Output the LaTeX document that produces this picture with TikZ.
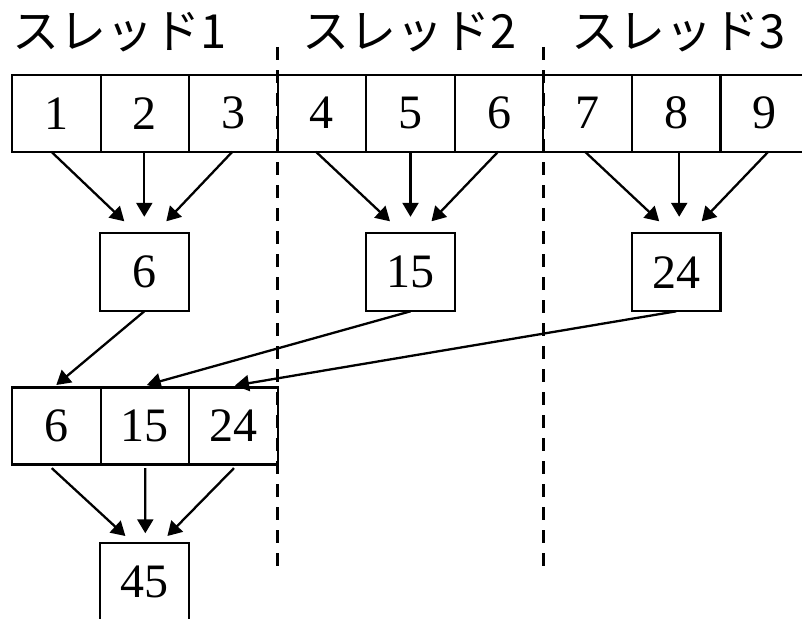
\documentclass[tikz,border=0pt]{standalone}
\usepackage{fontspec}
\setmainfont{Liberation Serif}
\newfontfamily\jpfont{Noto Sans CJK JP}
\usetikzlibrary{arrows.meta}
\tikzset{
  cell/.style={draw, line width=2.1pt, minimum width=88.5pt, minimum height=77pt, inner sep=0pt, outer sep=0pt, font=\fontsize{48}{48}\selectfont},
  arr/.style={line width=2.3pt, -{Triangle[length=14pt,width=16pt]}},
  sep/.style={line width=3.3pt, dash pattern=on 13pt off 10pt},
  title/.style={inner sep=0pt, font=\jpfont\fontsize{47}{47}\selectfont}
}
\begin{document}
\begin{tikzpicture}[x=1pt,y=-1pt]
\useasboundingbox (0,0) rectangle (802,618);
\clip (0,0) rectangle (802,618);
% titles
\node[title] (t1) at (120,32.5) {スレッド1};
\node[title] (t2) at (410,32.5) {スレッド2};
\node[title] (t3) at (679,32.5) {スレッド3};
% top row
\node[cell] (c1) at (56.3,113.2) {1};
\node[cell] (c2) at (144.8,113.2) {2};
\node[cell] (c3) at (233.4,113.2) {3};
\node[cell] (c4) at (321.9,113.2) {4};
\node[cell] (c5) at (410.5,113.2) {5};
\node[cell] (c6) at (499.1,113.2) {6};
\node[cell] (c7) at (587.6,113.2) {7};
\node[cell] (c8) at (676.2,113.2) {8};
\node[cell] (c9) at (764.7,113.2) {9};
% partial sums
\node[cell, minimum height=78pt] (m1) at (144.3,272.3) {6};
\node[cell, minimum height=78pt] (m2) at (410.5,272.3) {15};
\node[cell, minimum height=78pt] (m3) at (676.2,272.3) {24};
% gathered row
\node[cell] (b1) at (56.3,426) {6};
\node[cell] (b2) at (144.8,426) {15};
\node[cell] (b3) at (233.4,426) {24};
% total
\node[cell, minimum height=78pt] (f) at (144.4,581.7) {45};
% separators
\draw[sep] (277.3,47) -- (277.3,574);
\draw[sep] (543.3,47) -- (543.3,574);
% arrows top -> partial
\draw[arr] ([xshift=-5pt]c1.south) -- ([xshift=-20pt,yshift=12pt]m1.north);
\draw[arr] ([xshift=-0.5pt]c2.south) -- ([yshift=16.5pt]m1.north);
\draw[arr] ([xshift=-1pt]c3.south) -- ([xshift=22pt,yshift=12pt]m1.north);
\draw[arr] ([xshift=-6pt]c4.south) -- ([xshift=-20.5pt,yshift=12pt]m2.north);
\draw[arr] (c5.south) -- ([yshift=16.5pt]m2.north);
\draw[arr] ([xshift=-1pt]c6.south) -- ([xshift=21pt,yshift=12pt]m2.north);
\draw[arr] ([xshift=-2.6pt]c7.south) -- ([xshift=-17pt,yshift=12pt]m3.north);
\draw[arr] ([xshift=3pt]c8.south) -- ([xshift=3pt,yshift=16.5pt]m3.north);
\draw[arr] ([xshift=3.6pt]c9.south) -- ([xshift=25.5pt,yshift=12pt]m3.north);
% partial -> gathered
\draw[arr] (m1.south) -- ([yshift=2.5pt]b1.north);
\draw[arr] (m2.south) -- ([xshift=2pt,yshift=2.5pt]b2.north);
\draw[arr] (m3.south) -- ([xshift=1.6pt,yshift=2pt]b3.north);
% gathered -> total
\draw[arr] ([xshift=-4.6pt,yshift=-3.6pt]b1.south) -- ([xshift=-19pt,yshift=6.7pt]f.north);
\draw[arr] ([xshift=0.5pt,yshift=-3.6pt]b2.south) -- ([xshift=0.9pt,yshift=9.4pt]f.north);
\draw[arr] ([xshift=0.6pt,yshift=-3.6pt]b3.south) -- ([xshift=23pt,yshift=6.7pt]f.north);
\end{tikzpicture}
\end{document}
